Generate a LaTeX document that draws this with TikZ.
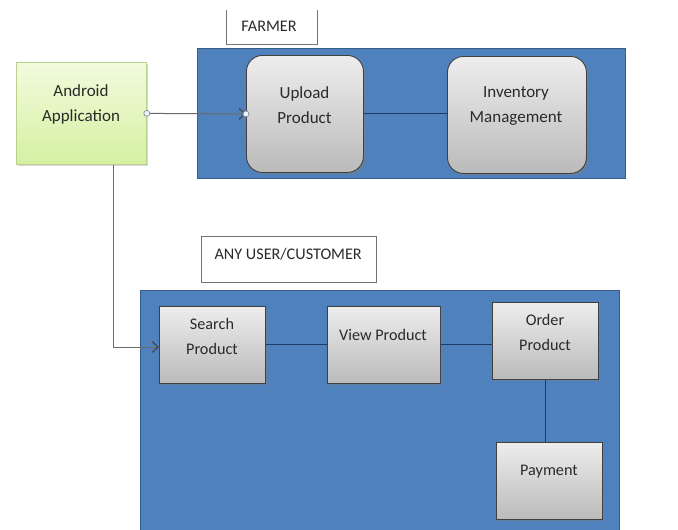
\documentclass[tikz,border=0pt]{standalone}
\usepackage{fontspec}
\setmainfont{Carlito}
\usetikzlibrary{shadows,arrows.meta}
\definecolor{bluefill}{HTML}{4F81BD}
\definecolor{blueedge}{HTML}{385D8A}
\definecolor{txt}{HTML}{2A2A2A}
\definecolor{navy}{HTML}{1F3A63}
\definecolor{gtop}{HTML}{F2FBDD}
\definecolor{gbot}{HTML}{D5F0A2}
\definecolor{gedge}{HTML}{B9D08E}
\tikzset{
  bg/.style={draw=blueedge, fill=bluefill, line width=1.2pt, anchor=north west, inner sep=0pt},
  graybox/.style={draw=black!75, line width=0.9pt, top color=black!7, bottom color=black!27,
    anchor=north west, inner sep=0pt,
    drop shadow={shadow xshift=2pt, shadow yshift=-2pt, opacity=0.5}},
  roundbox/.style={graybox, rounded corners=16pt},
  greenbox/.style={draw=gedge, line width=0.8pt, top color=gtop, bottom color=gbot,
    anchor=north west, inner sep=0pt,
    drop shadow={shadow xshift=2pt, shadow yshift=-2pt, opacity=0.3}},
  lblbox/.style={draw=black!55, fill=white, line width=0.8pt, anchor=north west, inner sep=0pt},
  toptext/.style={text=txt, align=center, font=\fontsize{17}{25}\selectfont},
  bottext/.style={text=txt, align=center, font=\fontsize{16.2}{25}\selectfont},
  navyline/.style={draw=navy, line width=1pt},
  grayarrow/.style={draw=black!58, line width=1pt, -{Straight Barb[length=6pt,width=11pt,line width=1.2pt,color=black!72]}},
  dot/.style={circle, draw=black!50, fill=cyan!10, inner sep=0pt, minimum size=6pt, line width=0.6pt}
}
\begin{document}
\begin{tikzpicture}[x=1pt,y=-1pt]
\clip (0,0) rectangle (678,530);
\fill[white] (0,0) rectangle (678,530);
% farmer part
\node[lblbox, draw=none, minimum width=91pt, minimum height=34pt] (farmerlbl) at (226,10) {};
\draw[black!55, line width=0.8pt] (farmerlbl.north west) -- (farmerlbl.south west) -- (farmerlbl.south east) -- (farmerlbl.north east);
\node[toptext, font=\fontsize{16.2}{20}\selectfont] (farmertxt) at (269,26) {FARMER};
\node[bg, minimum width=428pt, minimum height=130pt] (farmerbg) at (197,48) {};
\node[roundbox, minimum width=117pt, minimum height=117pt] (upload) at (246,55) {};
\node[roundbox, minimum width=139pt, minimum height=117pt] (inventory) at (447,56) {};
\node[greenbox, minimum width=130pt, minimum height=102pt] (android) at (16,62) {};
\node[toptext] (androidtxt) at (81,104) {Android\\Application};
\node[toptext] (uploadtxt) at (304.5,105) {Upload\\Product};
\node[toptext] (inventorytxt) at (516,106) {Inventory\\Management};
\draw[navyline] (upload.east) -- (upload.east -| inventory.west);
% customer part
\node[lblbox, minimum width=175pt, minimum height=46pt] (userlbl) at (201,236) {};
\node[bottext, anchor=west] (usertxt) at (211,254) {ANY USER/CUSTOMER};
\node[bg, minimum width=479pt, minimum height=260pt] (userbg) at (140,290) {};
\node[graybox, minimum width=106pt, minimum height=77pt] (search) at (159,306) {};
\node[graybox, minimum width=113pt, minimum height=77pt] (view) at (327,306) {};
\node[graybox, minimum width=106pt, minimum height=77pt] (order) at (492,302) {};
\node[graybox, minimum width=106pt, minimum height=77pt] (payment) at (496,442) {};
\node[bottext] (searchtxt) at (212,336) {Search\\Product};
\node[bottext] (viewtxt) at (383,335) {View Product};
\node[bottext] (ordertxt) at (545,332) {Order\\Product};
\node[bottext] (paymenttxt) at (549,472) {Payment};
\draw[navyline] (search.east) -- (view.west);
\draw[navyline] (view.east) -- (view.east -| order.west);
\draw[navyline] (order.south) -- (order.south |- payment.north);
% connectors from android
\draw[grayarrow] (android.east) -- (upload.west);
\node[dot] (d1) at (android.east) {};
\node[dot] (d2) at (upload.west) {};
\coordinate (turn) at (113,347);
\draw[grayarrow] (android.south -| turn) -- (turn) -- (turn -| search.west);
\end{tikzpicture}
\end{document}
